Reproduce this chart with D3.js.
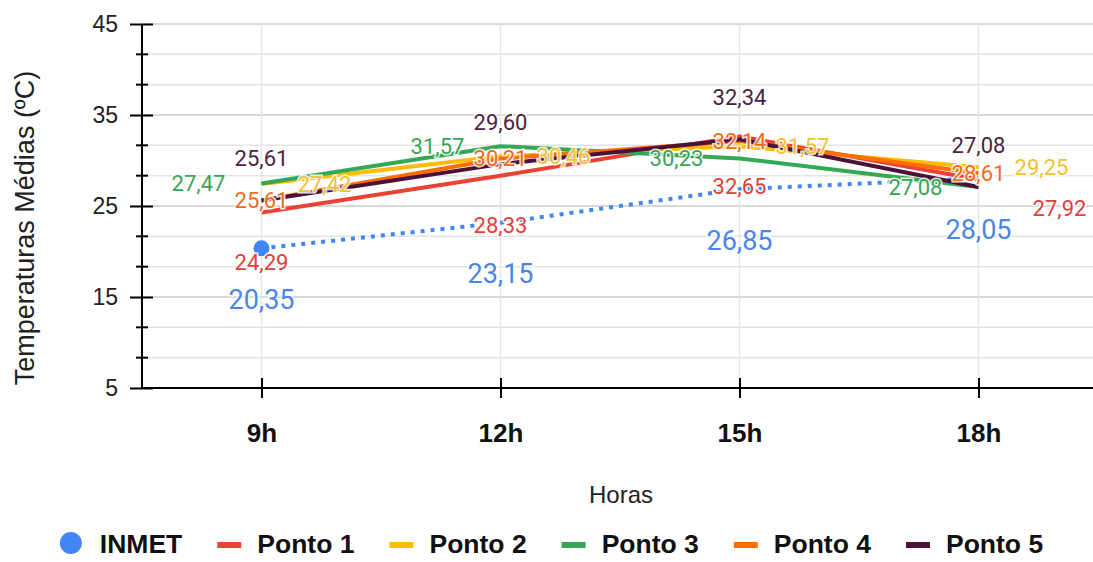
<!DOCTYPE html>
<html><head><meta charset="utf-8">
<script src="https://cdn.jsdelivr.net/npm/d3@7"></script>
<style>
html,body{margin:0;padding:0;background:#fff;}
svg{display:block;}
</style></head>
<body>
<svg id="chart" width="1093" height="562"></svg>
<script>
// ---- data ----
const categories = ["9h", "12h", "15h", "18h"];
const seriesNames = ["INMET", "Ponto 1", "Ponto 2", "Ponto 3", "Ponto 4", "Ponto 5"];
const inmet  = [20.35, 23.15, 26.85, 28.05];
const ponto1 = [24.29, 28.33, 32.65, 27.92];
const ponto2 = [27.42, 30.46, 31.57, 29.25];
const ponto3 = [27.47, 31.57, 30.23, 27.08];
const ponto4 = [25.61, 30.21, 32.14, 28.61];
const ponto5 = [25.61, 29.60, 32.34, 27.08];
const yTicks = [5, 15, 25, 35, 45];
const xTitle = "Horas";
const yTitle = "Temperaturas Médias (ºC)";

// ---- style ----
const colors = ["#4285f4", "#ea4335", "#fbbc04", "#34a853", "#ff6d01", "#4a1238"];
const labelColors = ["#4a86e8", "#e0413a", "#f1c232", "#3aa556", "#ef6c1a", "#4c2340"];
// label placement relative to point, per series: [dx, dy(center)]
const labelPlace = [[0, 51], [0, 50], [63, 0], [-63, 0], [0, 0], [0, -42]];
// individual overrides (series index, point index) -> [dx, dy]
const labelOverride = {"1-3": [81, 29]};

const allSeries = [inmet, ponto1, ponto2, ponto3, ponto4, ponto5];

const svg = d3.select("#chart");
const mLeft = 142, mRight = 1093, mTop = 24, mBottom = 388;
const axisFont = "Liberation Sans, Arial, sans-serif";

const y = d3.scaleLinear().domain([5, 45]).range([mBottom, mTop]);
const x = d3.scalePoint().domain(categories).range([mLeft, 1098]).padding(0.5);

// grid
const gridVals = d3.range(0, 13).map(i => 5 + i * 10 / 3);
svg.append("g").selectAll("line").data(gridVals).join("line")
  .attr("x1", mLeft).attr("x2", mRight)
  .attr("y1", d => y(d)).attr("y2", d => y(d))
  .attr("stroke", (d, i) => i % 3 === 0 ? "#cccccc" : "#e3e3e3")
  .attr("stroke-width", 1.5);
svg.append("g").selectAll("line").data(categories).join("line")
  .attr("x1", d => x(d)).attr("x2", d => x(d))
  .attr("y1", mTop).attr("y2", mBottom)
  .attr("stroke", "#e6e6e6").attr("stroke-width", 1.5);

// y axis
const yAxis = svg.append("g").attr("transform", `translate(${mLeft},0)`)
  .call(d3.axisLeft(y).tickValues(yTicks).tickSize(12).tickPadding(12));
yAxis.select(".domain").remove();
yAxis.selectAll(".tick line").attr("x2", 11).attr("x1", -12).attr("stroke", "#000").attr("stroke-width", 2);
yAxis.selectAll(".tick text").attr("font-family", axisFont)
  .attr("font-size", 23).attr("fill", "#222").attr("x", -24);
// minor ticks
svg.append("g").selectAll("line").data(gridVals.filter((d, i) => i % 3 !== 0)).join("line")
  .attr("x1", mLeft - 6).attr("x2", mLeft + 6)
  .attr("y1", d => y(d)).attr("y2", d => y(d))
  .attr("stroke", "#000").attr("stroke-width", 2);
svg.append("line").attr("x1", mLeft).attr("x2", mLeft).attr("y1", mTop).attr("y2", mBottom + 1)
  .attr("stroke", "#000").attr("stroke-width", 2);

// x axis
const xAxis = svg.append("g").attr("transform", `translate(0,${mBottom})`)
  .call(d3.axisBottom(x).tickSize(10).tickPadding(26));
xAxis.select(".domain").remove();
xAxis.selectAll(".tick line").attr("y1", -10).attr("y2", 10).attr("stroke", "#000").attr("stroke-width", 2);
xAxis.selectAll(".tick text").attr("font-family", axisFont)
  .attr("font-size", 26).attr("font-weight", "bold").attr("fill", "#111");
svg.append("line").attr("x1", mLeft - 1).attr("x2", mRight).attr("y1", mBottom).attr("y2", mBottom)
  .attr("stroke", "#000").attr("stroke-width", 2);

// titles
svg.append("text").attr("x", 621).attr("y", 503).attr("text-anchor", "middle")
  .attr("font-family", axisFont).attr("font-size", 24).attr("fill", "#222")
  .text(xTitle);
svg.append("text").attr("transform", "translate(34,228) rotate(-90)").attr("text-anchor", "middle")
  .attr("font-family", axisFont).attr("font-size", 27).attr("fill", "#222")
  .text(yTitle);

// lines
const line = d3.line().x((d, i) => x(categories[i])).y(d => y(d));
allSeries.forEach((s, si) => {
  const p = svg.append("path").datum(s).attr("d", line)
    .attr("fill", "none").attr("stroke", colors[si]);
  if (si === 0) {
    p.attr("stroke-width", 4).attr("stroke-dasharray", "4,6");
  } else {
    p.attr("stroke-width", 4).attr("stroke-linejoin", "round");
  }
});
// INMET marker (first point)
svg.append("circle").attr("cx", x(categories[0])).attr("cy", y(inmet[0])).attr("r", 8)
  .attr("fill", colors[0]);

// labels
const fmt = v => d3.format(".2f")(v).replace(".", ",");
allSeries.forEach((s, si) => {
  s.forEach((v, i) => {
    const off = labelOverride[si + "-" + i] || labelPlace[si];
    svg.append("text")
      .attr("x", x(categories[i]) + off[0])
      .attr("y", y(v) + off[1])
      .attr("dy", "0.35em")
      .attr("text-anchor", "middle")
      .attr("font-family", "Roboto, sans-serif")
      .attr("font-size", si === 0 ? 27 : 22)
      .attr("fill", labelColors[si])
      .attr("stroke", "#fff").attr("stroke-width", 3).attr("stroke-opacity", 0.85)
      .attr("paint-order", "stroke")
      .text(fmt(v));
  });
});

// legend
const lg = svg.append("g");
let cx = 0;
seriesNames.forEach((name, i) => {
  const g = lg.append("g").attr("transform", `translate(${cx},0)`);
  if (i === 0) {
    g.append("circle").attr("cx", 11).attr("cy", 543).attr("r", 11).attr("fill", colors[i]);
  } else {
    g.append("rect").attr("x", 0).attr("y", 542).attr("width", 24).attr("height", 6).attr("fill", colors[i]);
  }
  const t = g.append("text").attr("x", 40).attr("y", 553)
    .attr("font-family", axisFont).attr("font-size", 26.5)
    .attr("font-weight", "bold").attr("fill", "#111").text(name);
  const w = 40 + t.node().getComputedTextLength();
  cx += w + 35;
});
const totalW = cx - 35;
lg.attr("transform", `translate(${551.5 - totalW / 2},0)`);
</script>
</body></html>
